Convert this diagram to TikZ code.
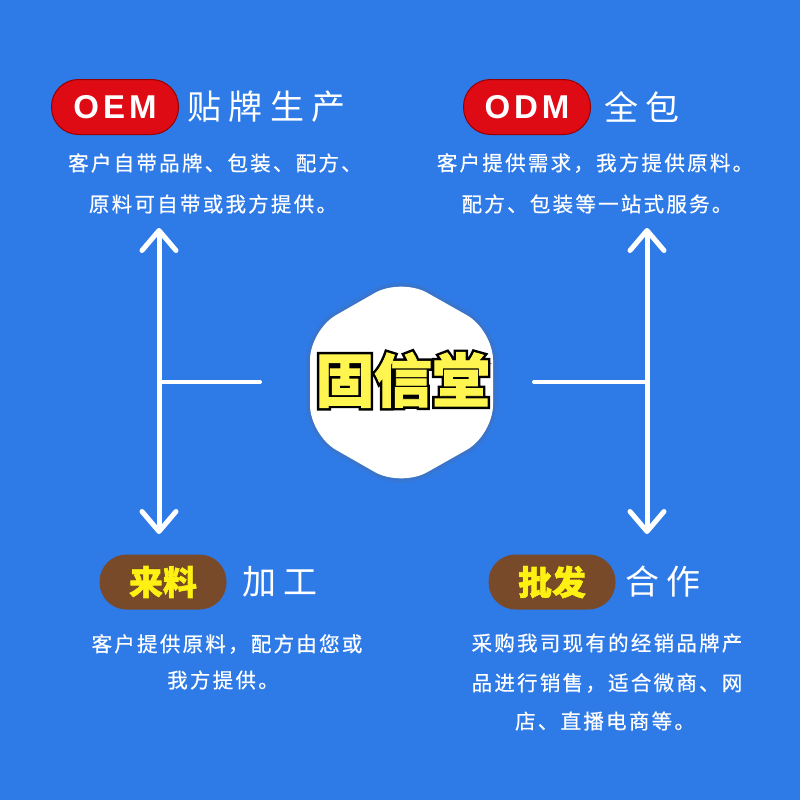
\documentclass[tikz,border=0pt]{standalone}
\usepackage{fontspec}
\setmainfont{Liberation Sans}
\newfontfamily\cjk{Noto Sans CJK SC}
\newfontfamily\cjkdesc[LetterSpace=11,FakeBold=0.6]{Noto Sans CJK SC}
\newfontfamily\cjktitle[LetterSpace=22]{Noto Sans CJK SC}
\newfontfamily\latinpill[LetterSpace=12]{Liberation Sans}
\newfontfamily\cjkoutline[FakeBold=10]{Noto Sans CJK SC}
\newfontfamily\cjkfill[FakeBold=1.5]{Noto Sans CJK SC}
\newfontfamily\cjkoutlinesmall[FakeBold=3]{Noto Sans CJK SC}
\usetikzlibrary{arrows.meta}
\definecolor{bgblue}{RGB}{46,123,232}
\definecolor{pillred}{RGB}{222,10,20}
\definecolor{pillredline}{RGB}{150,0,0}
\definecolor{pillbrown}{RGB}{120,74,42}
\definecolor{hanyellow}{RGB}{255,245,80}
\definecolor{pillyellow}{RGB}{255,240,20}
\tikzset{
  pill/.style={rectangle, rounded corners=27pt, minimum width=127pt, minimum height=55pt, inner sep=0pt},
  redpill/.style={pill, fill=pillred, draw=pillredline, line width=1pt},
  brownpill/.style={pill, fill=pillbrown},
  pilltext/.style={text=white, font=\latinpill\bfseries\fontsize{33}{33}\selectfont, inner sep=0pt},
  titletext/.style={text=white, anchor=west, inner sep=0pt, font=\cjktitle\fontsize{34}{34}\selectfont},
  desctext/.style={text=white, inner sep=0pt, font=\cjkdesc\fontsize{20.5}{20.5}\selectfont},
  linkline/.style={white, line width=5pt, line cap=round},
  dblarrow/.style={white, line width=5pt, {Straight Barb[length=20pt,width=34pt,line cap=round,line join=round]}-{Straight Barb[length=20pt,width=34pt,line cap=round,line join=round]}},
  yellowouter/.style={inner sep=0pt, text=black},
  yellowinner/.style={inner sep=0pt, text=hanyellow},
  hexshape/.style={rounded corners=30pt},
}
\begin{document}
\begin{tikzpicture}[x=1pt,y=-1pt]
\useasboundingbox (0,0) rectangle (800,800);
\fill[bgblue] (0,0) rectangle (800,800);

% central hexagon
\coordinate (h1) at (401,278);
\coordinate (h2) at (310,330);
\coordinate (h3) at (310,435);
\coordinate (h4) at (401,487);
\coordinate (h5) at (493,435);
\coordinate (h6) at (493,330);
\foreach \w/\o in {10/0.06,7/0.08,4/0.12}{
  \draw[black!60, line width=\w pt, opacity=\o, hexshape] (h1) -- (h2) -- (h3) -- (h4) -- (h5) -- (h6) -- cycle;
}
\fill[white, hexshape] (h1) -- (h2) -- (h3) -- (h4) -- (h5) -- (h6) -- cycle;
\node[yellowouter, font=\cjkoutline\bfseries\fontsize{58}{58}\selectfont] (centerout) at (403,380) {固信堂};
\node[yellowinner, font=\cjkfill\bfseries\fontsize{58}{58}\selectfont] (center) at (403,380) {固信堂};

% left connector
\coordinate (ltop) at (159,228);
\coordinate (lbot) at (159,534);
\coordinate (lmid) at (159,382);
\coordinate (lend) at (260,382);
\draw[dblarrow] (ltop) -- (lbot);
\draw[linkline, line width=4pt] (lmid) -- (lend);

% right connector
\coordinate (rtop) at (647,228);
\coordinate (rbot) at (647,534);
\coordinate (rmid) at (647,382);
\coordinate (rend) at (534,382);
\draw[dblarrow] (rtop) -- (rbot);
\draw[linkline, line width=4pt] (rmid) -- (rend);

% OEM
\node[redpill] (oem) at (115,107) {};
\node[pilltext] (oemt) at (oem.center) {OEM};
\node[titletext] (oemtitle) at (187,107) {贴牌生产};
\node[desctext] (oemd1) at (215,163) {客户自带品牌、包装、配方、};
\node[desctext] (oemd2) at (213,204) {原料可自带或我方提供。};

% ODM
\node[redpill] (odm) at (527,107) {};
\node[pilltext] (odmt) at (odm.center) {ODM};
\node[titletext] (odmtitle) at (604,107) {全包};
\node[desctext] (odmd1) at (595,163) {客户提供需求，我方提供原料。};
\node[desctext] (odmd2) at (597,204) {配方、包装等一站式服务。};

% 来料
\node[brownpill] (llpill) at (163,582) {};
\node[yellowouter, font=\cjkoutlinesmall\bfseries\fontsize{34}{34}\selectfont, text=pillbrown!60!black] (lltout) at (llpill.center) {来料};
\node[yellowinner, font=\cjkfill\bfseries\fontsize{34}{34}\selectfont, text=pillyellow] (llt) at (llpill.center) {来料};
\node[titletext] (lltitle) at (242,582) {加工};
\node[desctext] (lld1) at (227,644) {客户提供原料，配方由您或};
\node[desctext] (lld2) at (223,680) {我方提供。};

% 批发
\node[brownpill] (pfpill) at (552,582) {};
\node[yellowouter, font=\cjkoutlinesmall\bfseries\fontsize{34}{34}\selectfont, text=pillbrown!60!black] (pftout) at (pfpill.center) {批发};
\node[yellowinner, font=\cjkfill\bfseries\fontsize{34}{34}\selectfont, text=pillyellow] (pft) at (pfpill.center) {批发};
\node[titletext] (pftitle) at (625,582) {合作};
\node[desctext] (pfd1) at (607,643) {采购我司现有的经销品牌产};
\node[desctext] (pfd2) at (607,683) {品进行销售，适合微商、网};
\node[desctext] (pfd3) at (605,721) {店、直播电商等。};
\end{tikzpicture}
\end{document}
